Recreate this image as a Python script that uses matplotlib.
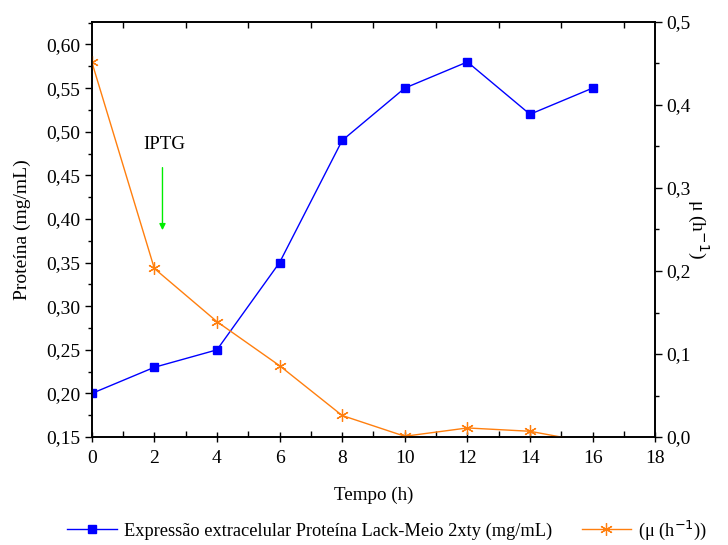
import matplotlib.pyplot as plt
import matplotlib.lines as mlines
from matplotlib.ticker import MultipleLocator, FuncFormatter

plt.rcParams['font.family'] = ['Liberation Serif', 'DejaVu Serif']
plt.rcParams['font.size'] = 14

# data
tempo = [0, 2, 4, 6, 8, 10, 12, 14, 16]
proteina = [0.20, 0.23, 0.25, 0.35, 0.49, 0.55, 0.58, 0.52, 0.55]
mu = [0.452, 0.203, 0.139, 0.086, 0.026, 0.001, 0.011, 0.007, -0.007]

fig = plt.figure(figsize=(7.28, 5.45), dpi=100)
ax = fig.add_axes([0.126, 0.198, 0.774, 0.762])
ax2 = ax.twinx()

ax.plot(tempo, proteina, color="#0000ff", lw=1, marker="s", ms=5.5, zorder=3)
ax2.plot(tempo, mu, color="#ff7f0e", lw=1, marker=(6, 2, 0), ms=9, mew=0.9)

comma = FuncFormatter(lambda v, p: f"{v:.2f}".replace(".", ","))
comma1 = FuncFormatter(lambda v, p: f"{v:.1f}".replace(".", ","))

ax.set_xlim(0, 18)
ax.set_ylim(0.15, 0.626)
ax2.set_ylim(0, 0.5)
ax.xaxis.set_major_locator(MultipleLocator(2))
ax.xaxis.set_minor_locator(MultipleLocator(1))
ax.yaxis.set_major_locator(MultipleLocator(0.05))
ax.yaxis.set_minor_locator(MultipleLocator(0.025))
ax.yaxis.set_major_formatter(comma)
ax2.yaxis.set_major_locator(MultipleLocator(0.1))
ax2.yaxis.set_minor_locator(MultipleLocator(0.05))
ax2.yaxis.set_major_formatter(comma1)

ax.tick_params(axis="x", which="major", direction="inout", length=7, width=1, labelsize=14, pad=6)
ax.tick_params(axis="x", which="minor", direction="in", length=4, width=1, top=True)
ax.tick_params(axis="y", which="major", direction="out", length=5, width=1, labelsize=14, pad=3)
ax.tick_params(axis="y", which="minor", direction="out", length=3, width=1)
ax2.tick_params(axis="y", which="major", direction="out", length=5, width=1, labelsize=14, pad=3)
ax2.tick_params(axis="y", which="minor", direction="out", length=3, width=1)
for a in (ax, ax2):
    for s in a.spines.values():
        s.set_linewidth(1.2)

ax.set_xlabel("Tempo (h)", fontsize=13.7, labelpad=14)
ax.set_ylabel("Proteína (mg/mL)", fontsize=14, labelpad=11)
ax2.set_ylabel("μ (h$^{-1}$)", fontsize=14, rotation=-90, labelpad=14)

ax.annotate("", xy=(2.26, 0.384), xytext=(2.26, 0.462),
            arrowprops=dict(arrowstyle="-|>", color="#00ee00", lw=1, mutation_scale=9))
ax.text(2.33, 0.485, "IPTG", ha="center", va="center", fontsize=13.7)

h1 = mlines.Line2D([], [], color="#0000ff", lw=1, marker="s", ms=5.5)
h2 = mlines.Line2D([], [], color="#ff7f0e", lw=1, marker=(6, 2, 0), ms=9, mew=0.9)
fig.legend([h1, h2], ["Expressão extracelular Proteína Lack-Meio 2xty (mg/mL)", "(μ (h$^{-1}$))"],
           loc="center", bbox_to_anchor=(0.532, 0.027), ncol=2, frameon=False,
           fontsize=13.2, handlelength=2.7, columnspacing=1.6, handletextpad=0.4)

fig.savefig("out.png", dpi=100)
